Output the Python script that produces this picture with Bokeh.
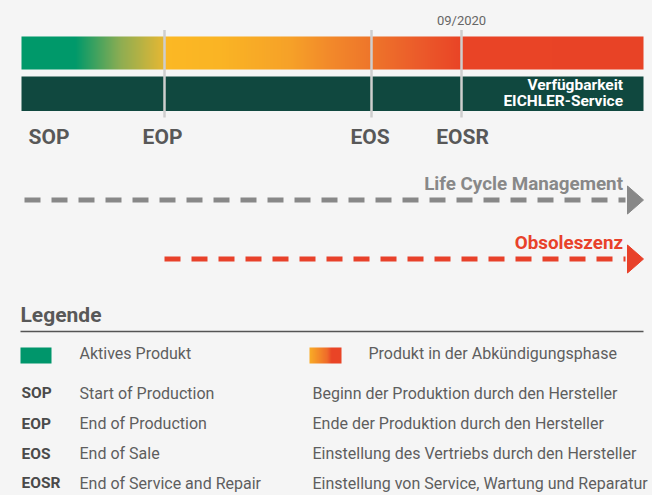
import numpy as np
from bokeh.plotting import figure
from bokeh.models import Range1d, ColumnDataSource
from bokeh.core.properties import value
from bokeh.embed import file_html
from bokeh.resources import INLINE

# ---------------- data ----------------
milestones = ["SOP", "EOP", "EOS", "EOSR"]
milestone_pos = [21, 164, 371, 461]          # position on the time line
timeline_end = 643
eosr_date = "09/2020"
bar_label = ["Verfügbarkeit", "EICHLER-Service"]

grad_pos = [21, 75, 120, 164, 165, 220, 290, 330, 371, 420, 461, 643]
grad_col = ["#00996a", "#00996a", "#8dad52", "#e6b733", "#fbb824", "#fab424",
            "#f6a128", "#f2892a", "#ee752a", "#eb5a2a", "#e94426", "#e84326"]

lcm_label = "Life Cycle Management"
lcm_start = 24
obs_label = "Obsoleszenz"
obs_start = 164

legend_title = "Legende"
swatch_labels = ["Aktives Produkt", "Produkt in der Abkündigungsphase"]
abbr_en = ["Start of Production", "End of Production", "End of Sale",
           "End of Service and Repair"]
abbr_de = ["Beginn der Produktion durch den Hersteller",
           "Ende der Produktion durch den Hersteller",
           "Einstellung des Vertriebs durch den Hersteller",
           "Einstellung von Service, Wartung und Reparatur"]

# ---------------- helpers ----------------
def hex2rgb(h):
    h = h.lstrip("#")
    return [int(h[i:i + 2], 16) for i in (0, 2, 4)]

def gradient_image(x0, x1, pos, cols):
    xs = np.arange(x0, x1) + 0.5
    rgb = np.array([hex2rgb(c) for c in cols], dtype=float)
    img = np.zeros((1, len(xs)), dtype=np.uint32)
    view = img.view(dtype=np.uint8).reshape((1, len(xs), 4))
    for k in range(3):
        view[0, :, k] = np.round(np.interp(xs, pos, rgb[:, k])).astype(np.uint8)
    view[0, :, 3] = 255
    return img

FONT = value("Roboto")
BG = "#f5f5f5"
DARK = "#10483f"
TXT = "#585858"
RED = "#e8412a"
GRAY = "#888888"
SHIFT = 0.37   # baseline correction (em)

p = figure(width=652, height=495, x_range=Range1d(0, 652),
           y_range=Range1d(495, 0), output_backend="svg",
           toolbar_location=None, min_border=0)
p.background_fill_color = BG
p.border_fill_color = BG
p.outline_line_color = None
p.axis.visible = False
p.grid.visible = False

def txt(x, y, text, size, color, bold=False, align="left", **kw):
    return p.text(x=x, y=y, text=text, text_font=FONT,
                  text_font_size="%gpx" % size,
                  text_font_style="bold" if bold else "normal",
                  text_color=color, text_align=align,
                  text_baseline="alphabetic", y_offset=-SHIFT * size, **kw)

# --- gradient bar ---
x0 = milestone_pos[0]
p.image_rgba(image=[gradient_image(x0, timeline_end, grad_pos, grad_col)],
             x=x0, y=36, dw=timeline_end - x0, dh=33)

# --- dark service bar ---
p.quad(left=[milestone_pos[0]], right=[timeline_end], top=[76], bottom=[110.5],
       fill_color=DARK, line_color=None)
txt([622.5, 622.5], [90, 106], bar_label, 15.5, "white", bold=True, align="right")

# --- milestone lines ---
p.segment(x0=milestone_pos[1:], y0=29.5, x1=milestone_pos[1:], y1=117,
          line_color="#cecece", line_width=2.5)
txt([milestone_pos[3]], [25], [eosr_date], 13, "#666666", align="center")

# --- milestone labels ---
lab_src = ColumnDataSource(dict(x=milestone_pos, t=milestones,
                                a=["left", "center", "center", "center"],
                                off=[7, -2, -1.5, 1]))
p.text(x="x", y=144, text="t", x_offset="off", text_align="a", source=lab_src,
       text_font=FONT, text_font_size="21px", text_font_style="bold",
       text_color=TXT, text_baseline="alphabetic", y_offset=-SHIFT * 21)

# --- arrows ---
def arrow(xstart, y, color, label):
    p.segment(x0=[xstart], y0=[y], x1=[timeline_end - 18], y1=[y], line_color=color,
              line_width=5, line_dash="16 11", line_cap="butt")
    p.patch(x=[timeline_end - 16, timeline_end, timeline_end - 16],
            y=[y - 14, y, y + 14], fill_color=color, line_color=color)
    txt([timeline_end - 20.5], [y - 9.5], [label], 18.8, color, bold=True,
        align="right")

arrow(lcm_start, 199.5, GRAY, lcm_label)
arrow(obs_start, 258.5, RED, obs_label)

# --- legend ---
txt([20], [322.5], [legend_title], 21, TXT, bold=True)
p.segment(x0=[20], y0=[331], x1=[timeline_end], y1=[331], line_color="#555555",
          line_width=1.5)

# swatches
p.quad(left=[20], right=[51], top=[347], bottom=[363], fill_color="#00966b",
       line_color=None)
p.image_rgba(image=[gradient_image(309, 341, [309, 327, 331, 341],
                                   ["#f9ac26", "#ef6a2a", "#e94426", "#e94426"])],
             x=309, y=347, dw=32, dh=16)
txt([79, 368], [358.5, 358.5], swatch_labels, 16, "#5e5e5e")

rows_y = [398.5, 429, 459, 488.5]
txt(21, rows_y, milestones, 15.5, "#4a4a4a", bold=True)
txt(79, rows_y, abbr_en, 16, "#5e5e5e")
txt(312, rows_y, abbr_de, 16, "#5e5e5e")

html = file_html(p, INLINE)
html = html.replace("</head>", "<style>body{background:#f5f5f5;}</style></head>", 1)
open("out.html", "w").write(html)
